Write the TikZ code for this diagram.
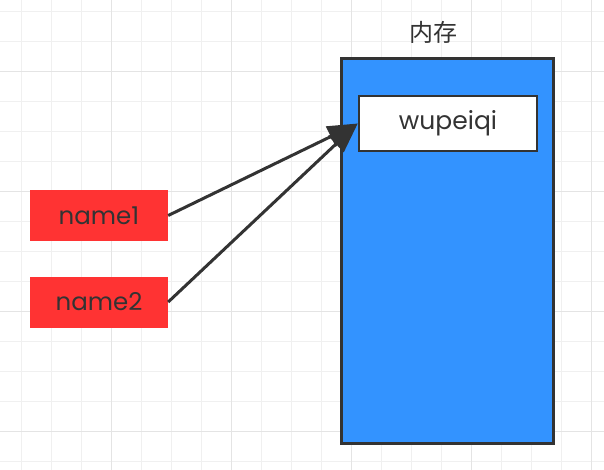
\documentclass[tikz,border=0pt]{standalone}
\usepackage{fontspec}
\setmainfont{Poppins}
\newfontfamily\cjk{Noto Sans CJK SC}
\usetikzlibrary{arrows.meta}
\definecolor{gridminor}{HTML}{F0F0F0}
\definecolor{gridmajor}{HTML}{E4E4E4}
\definecolor{redbox}{HTML}{FF3333}
\definecolor{bluebox}{HTML}{3393FF}
\definecolor{edge}{HTML}{333333}
\tikzset{
  varbox/.style={rectangle, fill=redbox, draw=none, minimum width=138pt, minimum height=51pt, inner sep=0pt, text=edge, font=\fontsize{24.5}{28}\selectfont},
  membox/.style={rectangle, fill=bluebox, draw=edge, line width=3pt, minimum width=212pt, minimum height=384pt, inner sep=0pt},
  valbox/.style={rectangle, fill=white, draw=edge, line width=2.5pt, minimum width=178pt, minimum height=55pt, inner sep=0pt, text=edge, font=\fontsize{25}{28}\selectfont},
  ref/.style={draw=edge, line width=3pt, -{Triangle[length=30pt,width=22pt]}},
}
\begin{document}
\begin{tikzpicture}[x=1pt,y=-1pt]
\useasboundingbox (0,0) rectangle (604,470);
\fill[white] (0,0) rectangle (604,470);
\foreach \gx in {21.7,51.7,...,604} \draw[gridminor, line width=1pt] (\gx,0) -- (\gx,470);
\foreach \gy in {11.7,41.7,...,470} \draw[gridminor, line width=1pt] (0,\gy) -- (604,\gy);
\foreach \gx in {111.7,231.7,...,604} \draw[gridmajor, line width=1pt] (\gx,0) -- (\gx,470);
\foreach \gy in {71.7,191.7,...,470} \draw[gridmajor, line width=1pt] (0,\gy) -- (604,\gy);

\node[membox] (mem) at (447,251) {};
\node[valbox] (val) at (448,123.5) {wupeiqi};
\node[text=edge, font=\cjk\fontsize{24}{28}\selectfont] (memlabel) at (433,32) {内存};
\node[varbox] (n1) at (99,215.5) {name1};
\node[varbox] (n2) at (99,302) {name2};
\draw[ref] (n1.east) -- (val.west);
\draw[ref] (n2.east) -- (val.west);
\end{tikzpicture}
\end{document}
